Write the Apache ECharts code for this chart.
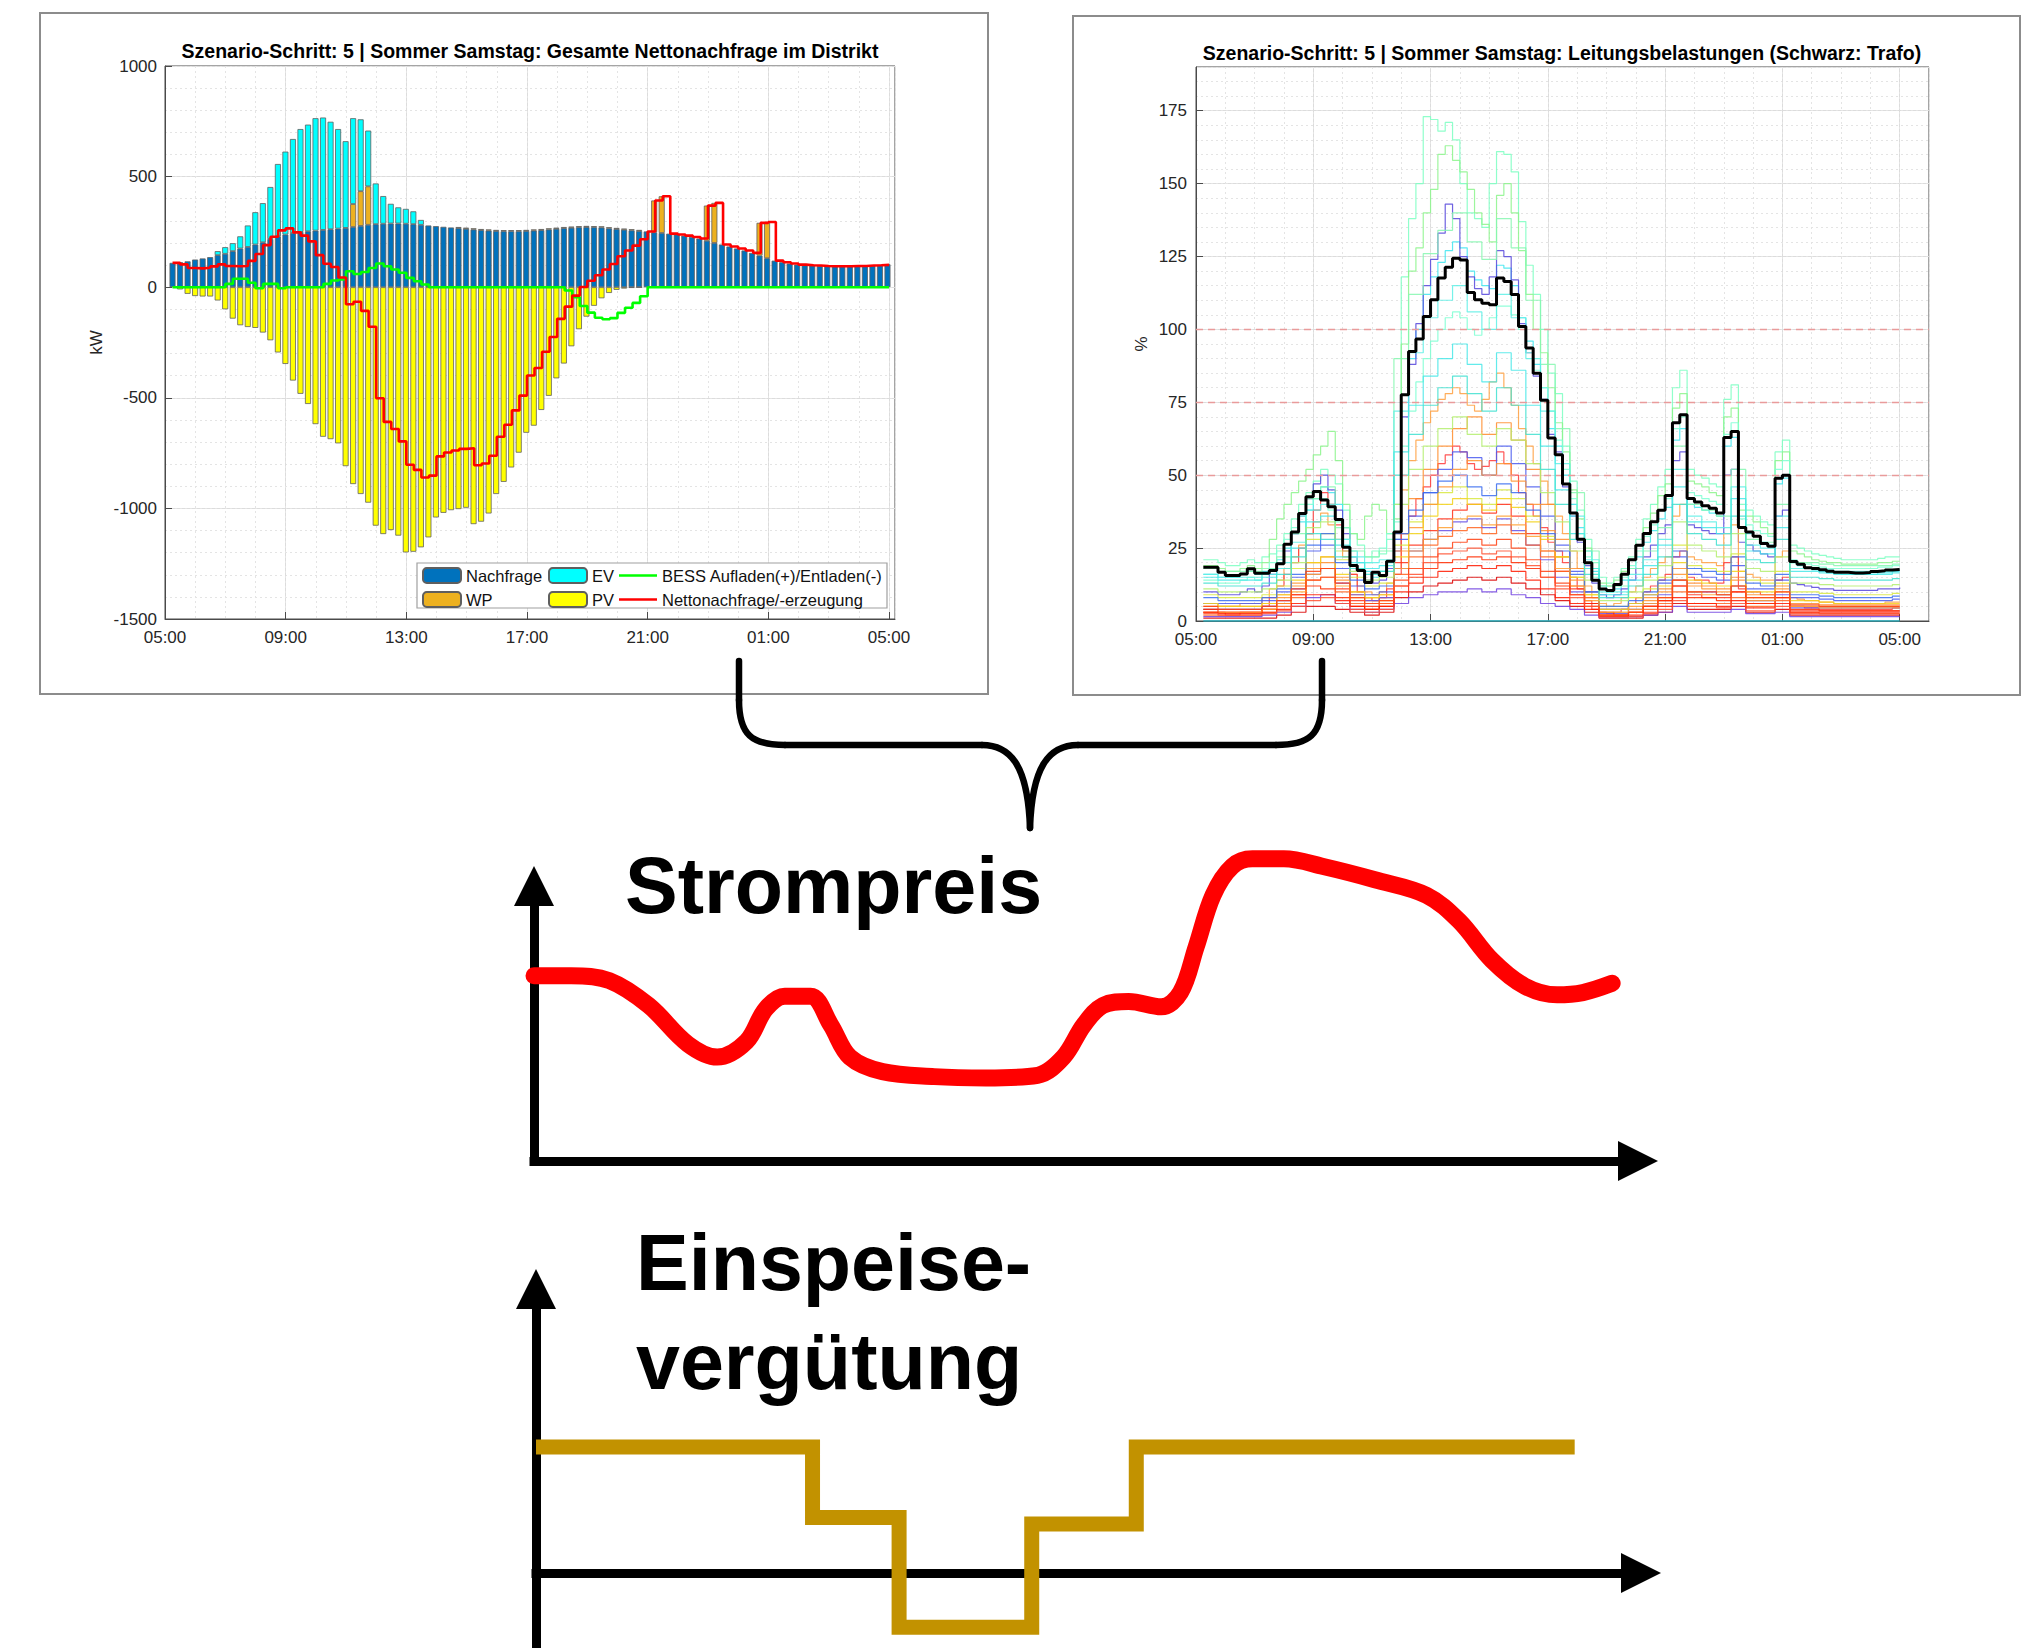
<!DOCTYPE html>
<html lang="de">
<head>
<meta charset="utf-8">
<title>Szenario-Schritt 5 – Sommer Samstag</title>
<script src="https://cdn.jsdelivr.net/npm/echarts@6/dist/echarts.min.js"></script>
<style>
html,body{margin:0;padding:0;background:#ffffff;}
#chart{width:2034px;height:1648px;}
</style>
</head>
<body>
<div id="chart"></div>
<script>
// ================= DATA =================
const hourTickLabels = ['05:00','09:00','13:00','17:00','21:00','01:00','05:00'];

// ---- left chart: district net demand, 96 quarter-hours (kW) ----
const demandKW = [110,113,117,125,130,136,145,151,163,175,
  182,193,203,218,230,238,245,250,253,256,
  259,262,265,268,272,277,282,285,287,288,
  288,287,285,282,279,276,273,270,267,264,
  261,258,256,254,253,253,253,254,256,258,
  261,264,267,269,271,272,271,270,266,263,
  260,257,254,252,248,245,242,238,233,227,
  220,210,200,193,184,175,166,155,143,131,
  120,113,107,102,99,98,96,95,95,95,
  96,96,98,99,101,104];
const heatPumpKW = [0,0,0,0,0,0,0,0,0,0,
  0,0,0,0,0,0,0,0,0,0,
  0,0,0,0,104,157,174,0,0,0,
  0,0,0,0,0,0,0,0,5,5,
  5,5,5,5,5,5,5,5,5,5,
  5,5,5,5,5,5,5,5,5,5,
  5,5,5,0,144,166,0,0,0,0,
  0,159,181,0,0,0,0,0,148,164,
  0,0,0,0,0,0,0,0,0,0,
  0,0,0,0,0,0];
const evKW = [0,0,0,0,0,0,18,30,36,55,
  97,146,177,235,327,375,425,465,482,508,
  508,486,450,392,388,325,252,184,125,89,
  73,67,58,22,0,0,0,0,0,0,
  0,0,0,0,0,0,0,0,0,0,
  0,0,0,0,0,0,0,0,0,0,
  0,0,0,0,0,0,0,0,0,0,
  0,0,0,0,0,0,0,0,0,0,
  0,0,0,0,0,0,0,0,0,0,
  0,0,0,0,0,0];
const pvKW = [0,-10,-30,-40,-42,-42,-60,-100,-142,-172,
  -180,-184,-205,-240,-295,-347,-422,-482,-528,-619,
  -676,-687,-706,-809,-890,-935,-974,-1078,-1116,-1098,
  -1123,-1199,-1196,-1176,-1131,-1041,-1020,-1008,-1003,-997,
  -1071,-1060,-1023,-935,-880,-815,-748,-658,-626,-555,
  -491,-412,-345,-267,-190,-133,-84,-50,-26,-12,
  -6,-3,-1,0,0,0,0,0,0,0,
  0,0,0,0,0,0,0,0,0,0,
  0,0,0,0,0,0,0,0,0,0,
  0,0,0,0,0,0];
const bessKW = [0,0,0,0,0,0,0,15,38,38,
  20,-5,15,15,-5,0,0,0,0,0,
  15,30,35,72,60,69,87,107,95,80,
  65,42,27,12,0,0,0,0,0,0,
  0,0,0,0,0,0,0,0,0,0,
  0,0,-15,-45,-85,-115,-138,-145,-140,-116,
  -93,-71,-41,0,0,0,0,0,0,0,
  0,0,0,0,0,0,0,0,0,0,
  0,0,0,0,0,0,0,0,0,0,
  0,0,0,0,0,0];
const netKW = [110,103,87,85,88,94,103,96,95,96,
  119,150,190,228,257,266,248,233,207,145,
  106,91,44,-77,-66,-107,-179,-502,-609,-641,
  -697,-803,-826,-860,-852,-765,-747,-738,-731,-728,
  -805,-797,-762,-676,-622,-557,-490,-399,-365,-292,
  -225,-143,-88,-38,1,29,54,80,105,140,
  166,188,217,252,392,411,242,238,233,227,
  220,369,381,193,184,175,166,155,291,295,
  120,113,107,102,99,98,96,95,95,95,
  96,96,98,99,101,104];

// ---- right chart: line loadings (%) ----
const trafoLoad = [18.4,18.4,16.7,15.6,15.6,16.1,17.9,16.4,16.4,17.3,
  19.6,26.3,30.5,36.9,42.6,44.4,41.5,39.2,34.8,25.3,
  19.0,17.3,13.2,16.7,15.6,20.5,30.5,77.6,92.4,96.7,
  104.4,110.2,117.6,121.3,124.4,123.8,112.7,110.2,109,108.5,
  117.6,116.4,112,101,93.6,85,75.7,62.8,57,47,
  37,28,20,14,11,10.5,12.5,16,21,26,
  30,34,38,43,68,70.7,42,40.8,39.5,38.7,
  37,62.9,65,32.1,30.5,29.1,26.6,25.6,49,50,
  20.4,19.5,18.3,18,17.6,17.1,16.7,16.7,16.5,16.5,
  16.6,17,17.2,17.5,17.7,17.8];
const feederA1 = [21,21,20,19,19,20,21,20,22,23,26,30,35,40,44,48,52,50,47,38,30,26,22,24,23,28,40,118,138,150,173,172,168,171,165,150,140,138,135,150,161,160,154,137,122,112,100,85,78,60,48,38,28,20,15,13,15,18,22,28,35,40,46,52,80,86,52,50,49,47,46,76,81,40,38,36,34,33,58,62,26,25,24,23,22.5,22,21.5,21,21,21,21,21,21.5,22,22,22];
const feederA2 = [19,19,18,17,17,18,19,18,20,28,35,40,44,48,52,57,60,65,55,40,30,28,36,40,38,30,35,95,120,128,140,148,160,163,158,154,148,140,136,130,146,150,140,127,112,100,92,80,68,58,45,35,25,18,13,12,14,17,21,26,32,37,43,47,73,78,48,47,46,44,43,70,73,38,36,34,32,30,55,58,24,23,22,21,20.5,20,20,19.5,19.5,19.5,19.5,19.5,20,20,20.5,20.5];
const feederA3 = [16,16,15,15,15,16,17,16,17,18,21,25,30,34,38,42,46,44,40,32,24,20,17,15,17,20,28,75,90,100,112,118,123,127,130,128,120,117,115,114,122,121,115,104,96,88,80,66,60,50,40,32,24,17,12,10,11,14,18,22,27,31,35,39,62,66,40,39,38,37,36,60,63,32,30,29,27,26,47,49,20,19,18,17.5,17,16.5,16.5,16,16,16,16,16,16.5,16.5,17,17];
const feederA4 = [10,10,9,9,9,10,11,10,12,16,20,24,30,36,42,47,50,45,38,30,22,18,14,13,14,18,24,70,88,102,115,124,133,143,138,125,118,114,112,118,127,125,117,102,92,84,76,64,58,46,36,27,19,13,9,8,9,11,14,18,22,26,30,33,55,58,33,32,31,30,30,50,52,27,26,24,23,22,36,38,13,12.5,12,11.5,11,11,10.5,10.5,10.5,10.5,10.5,10.5,11,11,11,11.5];
const feederA5 = [6,6,5,5,5,6,6,6,8,11,14,18,22,26,30,34,37,33,28,22,16,12,10,9,10,13,18,45,55,62,68,72,76,78,80,78,74,72,76,82,85,80,74,66,60,54,48,40,36,30,24,18,12,8,6,5,6,8,10,12,15,18,20,22,36,40,22,21,20,20,19,30,33,17,16,15,14,14,22,24,8,7.5,7,7,6.5,6.5,6,6,6,6,6,6,6,6.5,6.5,6.5];
const feederA6 = [3,3,3,2,2,3,3,3,5,8,12,16,20,25,30,38,44,40,33,24,16,10,8,7,8,11,16,30,36,42,46,50,54,57,60,58,54,52,53,55,58,54,50,44,40,36,32,27,24,20,15,11,7,4,3,2.5,3,4,6,8,10,12,14,16,22,24,15,14,14,13,13,20,22,11,10,10,9,9,14,15,5,5,4.5,4.5,4,4,4,4,4,4,4,4,4,4,4.5,4.5];
const feederA7 = [14,14,13,13,13,14,15,14,16,20,24,28,32,36,40,44,42,38,34,28,22,18,20,22,25,30,34,60,72,82,90,96,100,104,106,104,100,98,100,104,108,108,105,100,92,86,80,72,62,52,42,30,22,15,11,10,12,15,19,24,29,33,38,42,66,70,44,43,42,41,40,64,68,35,33,31,30,29,52,55,21,20,19.5,19,18.5,18,18,18,18,18,18,18,18.5,18.5,19,19];
const feederB1 = [4,3,3,3,4,6,9,12,11,8,5,4,5,12,15,18,20,21,22,21,22,20,18,15,12,9,6,3,2,3,5,7,12,8,8,7,10,6,6,8,4,4,3.5,3.5,3.5,3.5,3.5,3.5];
const feederB2 = [2,2,2,2,3,5,8,14,15,10,6,4,6,16,22,26,29,31,32,30,33,30,26,22,17,12,8,2,2,3,4,6,10,6,6,6,8,5,5,7,3,3,2.5,2.5,2.5,2.5,2.5,2.5];
const feederB3 = [6,5,5,5,6,9,14,20,22,16,10,8,9,22,30,36,40,42,40,38,42,39,34,28,22,15,9,4,4,6,9,12,20,14,13,12,17,10,10,13,7,7,6.5,6,6,6,6,6];
const feederB4 = [8,7,7,7,8,11,16,26,30,20,14,11,12,30,38,44,48,50,46,43,47,44,38,30,24,16,10,5,5,7,10,14,24,18,17,16,22,13,12,16,9,9,8.5,8,8,8,8,8.5];
const feederB5 = [1,1,1,1,1,2,3,5,5,4,3,2,3,8,10,12,13,14,15,14,15,13,11,9,7,5,3,1,1,1,2,3,6,4,4,4,5,3,3,4,2,2,2,2,2,2,2,2];
const feederB6 = [3,3,3,3,4,6,10,16,18,12,8,6,7,18,24,28,32,35,36,33,36,33,29,24,18,12,7,3,3,4,6,8,14,10,9,9,12,7,7,10,5,5,4.5,4.5,4.5,4.5,4.5,4.5];
const feederB7 = [1.5,1.5,1.5,1.5,2,3,5,8,9,6,4,3,4,6,8,9,10,10,11,10,11,9,8,6,5,4,2,1,1,1.5,2,3,5,3,3,3,4,2.5,2.5,3,1.5,1.5,1.5,1.5,1.5,1.5,1.5,1.5];
const feederB8 = [11,10,10,10,11,14,20,32,34,24,17,14,15,40,52,60,66,70,64,60,66,62,54,44,34,24,14,7,7,10,14,19,34,26,24,22,30,18,17,22,13,13,12.5,12,12,12,12,12.5];
const feederB9 = [5,4,4,4,5,7,11,17,18,13,8,6,7,14,18,22,25,27,28,26,28,25,21,17,13,9,5,2,2,3,5,8,14,10,10,9,12,8,8,10,5.5,5.5,5,5,5,5,5,5];
const feederB10 = [13,12,12,12,13,16,22,30,28,22,18,16,17,50,64,74,80,84,78,72,80,74,64,52,40,28,16,8,8,12,16,22,40,30,28,26,36,21,20,28,15,15,14.5,14,14,14,14,14.5];
const feederB11 = [4,4,4,4,5,8,12,18,20,14,9,7,8,30,42,52,60,66,70,64,68,62,52,40,28,18,10,4,4,6,8,11,18,13,12,11,15,9,9,12,6,6,5.5,5.5,5.5,5.5,5.5,5.5];
const feederB12 = [15,14,14,14,15,18,25,34,36,26,20,18,19,58,74,84,90,95,88,82,92,86,74,60,45,30,18,9,9,14,19,26,46,34,32,30,42,24,23,32,17,17,16.5,16,16,16,16,16.5];
const feederB13 = [6,6,6,6,7,10,15,24,26,18,12,9,10,28,36,44,52,58,56,50,60,54,46,36,26,17,10,4,4,6,9,13,22,16,15,14,19,11,11,14,8,8,7.5,7,7,7,7,7.5];
const feederB14 = [3,2.5,2.5,2.5,3,4,6,9,9,7,5,4,5,10,13,15,17,18,19,18,19,17,14,11,8,6,4,1.5,1.5,2,3,5,8,6,6,5,7,4.5,4.5,6,3,3,3,3,3,3,3,3];
const feederB15 = [2.5,2,2,2,2.5,3.5,5,7,8,6,4,3,4,12,16,20,23,24,25,23,24,22,19,15,11,8,5,1,1,1.5,2.5,4,7,5,5,4.5,6,3.5,3.5,5,2.5,2.5,2.5,2.5,2.5,2.5,2.5,2.5];
const feederB16 = [9,8,8,8,9,12,18,28,30,21,15,12,13,26,34,40,44,46,42,40,45,42,36,29,22,15,9,5,5,8,11,15,26,19,18,17,23,14,13,17,10,10,9.5,9,9,9,9,9.5];
const feederB17 = [18,17,17,17,18,22,30,42,46,32,24,22,24,90,112,126,134,140,130,124,138,128,110,88,66,44,24,12,12,18,24,32,60,40,38,36,52,28,27,40,20,20,19.5,19,19,19,19,19.5];
const feederB18 = [16,15,15,15,16,20,27,38,40,28,22,20,21,72,92,104,110,115,106,100,112,104,90,72,54,36,21,10,10,16,21,28,52,36,34,32,46,26,25,36,18,18,17.5,17,17,17,17,17.5];
const feederB19 = [5,5,5,5,6,9,13,20,22,15,10,8,9,24,32,40,46,52,55,50,54,48,40,31,22,14,8,3,3,5,7,10,16,12,11,10,14,8,8,11,5,5,5,5,5,5,5,5];
const feederB20 = [4,4,4,4,5,7,11,16,18,13,9,7,8,18,24,28,31,34,35,32,35,31,26,21,15,10,6,2.5,2.5,4,6,9,14,10,10,9,12,7,7,9,4.5,4.5,4.5,4.5,4.5,4.5,4.5,4.5];
const feederB21 = [3,3,3,3,4,6,9,14,15,11,7,5,6,20,26,31,35,38,40,37,40,36,30,24,17,11,6,2,2,3,5,7,12,9,8,8,10,6,6,8,3.5,3.5,3.5,3.5,3.5,3.5,3.5,3.5];
const idleFeederT = [0.25, 24];
const idleFeederLoad = [0, 0];
const loadLimits = [50, 75, 100];

// ---- sketch: electricity price (arbitrary units) ----
const priceX = [0,3.3,6.7,10.2,13.7,16.3,18.9,20.6,22.3,24.6,26.4,28.1,31.0,35.6,40.2,44.8,47.1,48.9,50.6,52.9,55.8,57.5,58.9,60.4,62.1,63.9,66.7,70.2,74.8,79.4,82.3,85.2,88.1,91.0,93.3,95.9];
const priceY = [56.0,56.0,54.5,47.0,35.3,31.4,36.1,45.9,49.8,49.8,41.1,31.4,27.0,25.5,25.1,25.9,31.4,41.1,47.0,48.2,46.6,50.9,64.7,80.3,89.0,91.3,91.3,89.0,85.0,80.3,72.5,60.7,52.9,50.2,50.9,53.7];
// ---- sketch: feed-in tariff (arbitrary units, step) ----
const feedInX = [0, 24.6, 32.3, 44.1, 53.4, 92.4];
const feedInY = [100, 44, -43, 39, 100, 100];

// ================= BUILD =================
const FONT = "'Liberation Sans', Arial, Helvetica, sans-serif";
const slotTimes = demandKW.map((_, k) => (k + 1) * 0.25);
const halfHourTimes = feederB1.map((_, j) => 0.25 + 0.5 * j);
const barSlots = ['start'].concat(slotTimes.map(t => 'q' + t)).concat(['end']);
const pairs = (ts, vs) => vs.map((v, i) => [ts[i], v]);
const nz = v => (v === 0 ? null : v);
const hourFmt = v => {
  const i = Math.round(v / 4);
  return Math.abs(v - i * 4) < 1e-6 && hourTickLabels[i] ? hourTickLabels[i] : '';
};

const AX = '#4a4a4a';
const majorGrid = { show: true, lineStyle: { color: '#dcdcdc', width: 1 } };
const minorGrid = { show: true, lineStyle: { color: '#e4e4e4', width: 1, type: [2, 3] } };
const hiddenAxisParts = { axisLine: { show: false }, axisTick: { show: false }, axisLabel: { show: false } };

function mainX(grid, max) {
  return {
    gridIndex: grid, type: 'value', min: 0, max: max, interval: 4,
    axisLine: { show: true, onZero: false, lineStyle: { color: AX, width: 1 } },
    axisTick: { show: true, inside: true, length: 7, lineStyle: { color: AX } },
    axisLabel: { formatter: hourFmt, fontSize: 17, color: '#262626', fontFamily: FONT, margin: 10, showMaxLabel: false },
    splitLine: majorGrid
  };
}
function minorX(grid, max) {
  return Object.assign({ gridIndex: grid, type: 'value', min: 0, max: max, interval: 1, splitLine: minorGrid }, hiddenAxisParts);
}
function arrowAxis(grid, min, max) {
  return {
    gridIndex: grid, type: 'value', min: min, max: max,
    axisLine: { show: true, onZero: true, symbol: ['none', 'triangle'], symbolSize: [40, 40],
      lineStyle: { color: '#000', width: 9, cap: 'square' } },
    axisTick: { show: false }, axisLabel: { show: false }, splitLine: { show: false }
  };
}

const barStyle = c => ({ color: c, borderColor: '#5f5f5f', borderWidth: 0.8 });
function barSeries(name, arr, color) {
  return {
    name: name, type: 'bar', stack: 'district', xAxisIndex: 6, yAxisIndex: 0,
    barWidth: 6, data: [null].concat(arr.map(nz)).concat([null]), itemStyle: barStyle(color), z: 2
  };
}
function stepSeries(name, arr, color, width) {
  return {
    name: name, type: 'line', step: 'end', xAxisIndex: 0, yAxisIndex: 0,
    symbol: 'none', showSymbol: false, data: pairs(slotTimes, arr),
    lineStyle: { color: color, width: width }, itemStyle: { color: color }, z: 4
  };
}

const upperFeeders = [feederA1, feederA2, feederA3, feederA4, feederA5, feederA6, feederA7];
const upperColors = ['#7dffc2', '#8cf58c', '#3fe6f0', '#5646dc', '#ffa040', '#ff3a3a', '#7fffd4'];
const lowerFeeders = [feederB17, feederB18, feederB12, feederB11, feederB13, feederB16, feederB19, feederB20, feederB21,
  feederB1, feederB2, feederB3, feederB4, feederB5, feederB6, feederB7, feederB8, feederB9, feederB10, feederB14, feederB15];
const lowerColors = ['#86f7b0', '#5ef0e6', '#48e8e8', '#ff8c2a', '#4a5af0', '#d8e840', '#ff9430', '#6650e6', '#ff3018',
  '#ff2a00', '#ff6420', '#f2d21a', '#3a6cf0', '#dc0000', '#ffa030', '#7040e0', '#b4ee6e', '#ff4010', '#40e0d0', '#ff1a00', '#ff5030'];

const rightSeries = [];
rightSeries.push({
  name: 'Leitung 0', type: 'line', xAxisIndex: 2, yAxisIndex: 2, symbol: 'none',
  data: pairs(idleFeederT, idleFeederLoad), lineStyle: { color: '#2ab4c4', width: 1.6 }, z: 2,
  markLine: { silent: true, symbol: ['none', 'none'], label: { show: false },
    lineStyle: { color: '#e99b9b', type: [7, 5], width: 1.3 },
    data: loadLimits.map(v => ({ yAxis: v })) }
});
upperFeeders.forEach((arr, i) => rightSeries.push({
  name: 'Leitung A' + (i + 1), type: 'line', step: 'end', xAxisIndex: 2, yAxisIndex: 2, symbol: 'none',
  data: pairs(slotTimes, arr), lineStyle: { color: upperColors[i], width: 1.2, opacity: 0.85 }, z: 2
}));
lowerFeeders.forEach((arr, i) => rightSeries.push({
  name: 'Leitung B' + (i + 1), type: 'line', step: 'end', xAxisIndex: 2, yAxisIndex: 2, symbol: 'none',
  data: pairs(halfHourTimes, arr).concat([[24, arr[arr.length - 1]]]),
  lineStyle: { color: lowerColors[i], width: 1.2, opacity: 0.85 }, z: 3
}));
rightSeries.push({
  name: 'Trafo', type: 'line', step: 'end', xAxisIndex: 2, yAxisIndex: 2, symbol: 'none',
  data: pairs(slotTimes, trafoLoad), lineStyle: { color: '#000000', width: 3 }, z: 5
});

const legendCommon = {
  orient: 'vertical', top: 567, itemWidth: 38, itemHeight: 15, itemGap: 7, padding: 0,
  selectedMode: false, textStyle: { fontSize: 16.5, color: '#111', fontFamily: FONT }, z: 6
};

// brace decoration (pixel geometry)
const braceStyle = { stroke: '#000', lineWidth: 6.5, lineCap: 'round', fill: null };
function braceLine(x1, y1, x2, y2) {
  return { type: 'line', z: 20, shape: { x1: x1, y1: y1, x2: x2, y2: y2 }, style: braceStyle };
}
function braceCurve(x1, y1, c1x, c1y, c2x, c2y, x2, y2) {
  return { type: 'bezierCurve', z: 20, shape: { x1: x1, y1: y1, cpx1: c1x, cpy1: c1y, cpx2: c2x, cpy2: c2y, x2: x2, y2: y2 }, style: braceStyle };
}
const braceElements = [
  braceLine(739, 661, 739, 700),
  braceCurve(739, 700, 739, 735, 752, 745, 785, 745),
  braceLine(785, 745, 982, 745),
  braceCurve(982, 745, 1012, 745, 1028, 768, 1030, 828),
  braceLine(1322, 661, 1322, 700),
  braceCurve(1322, 700, 1322, 735, 1309, 745, 1276, 745),
  braceLine(1276, 745, 1078, 745),
  braceCurve(1078, 745, 1048, 745, 1032, 768, 1030, 828)
];

const option = {
  animation: false,
  backgroundColor: '#ffffff',
  textStyle: { fontFamily: FONT },
  grid: [
    { left: 165, top: 66, width: 730, height: 553, show: true, borderColor: AX, borderWidth: 1, backgroundColor: '#fff', containLabel: false, outerBoundsMode: 'none' },
    { left: 1196, top: 67, width: 733, height: 554, show: true, borderColor: AX, borderWidth: 1, backgroundColor: '#fff', containLabel: false, outerBoundsMode: 'none' },
    { left: 534, top: 886, width: 1104, height: 275, containLabel: false, outerBoundsMode: 'none' },
    { left: 536, top: 1289, width: 1105, height: 359, containLabel: false, outerBoundsMode: 'none' }
  ],
  xAxis: [
    mainX(0, 24.2), minorX(0, 24.2),
    mainX(1, 25), minorX(1, 25),
    arrowAxis(2, 0, 98.2), arrowAxis(3, 0, 98.3),
    { gridIndex: 0, type: 'category', data: barSlots, boundaryGap: false, show: false }
  ],
  yAxis: [
    { gridIndex: 0, type: 'value', min: -1500, max: 1000, interval: 500,
      name: 'kW', nameLocation: 'middle', nameGap: 60, nameRotate: 90,
      nameTextStyle: { fontSize: 17, color: '#262626', fontFamily: FONT },
      axisLine: { show: true, onZero: false, lineStyle: { color: AX } },
      axisTick: { show: true, inside: true, length: 7, lineStyle: { color: AX } },
      axisLabel: { formatter: v => String(v), fontSize: 17, color: '#262626', fontFamily: FONT, margin: 8 },
      splitLine: majorGrid },
    Object.assign({ gridIndex: 0, type: 'value', min: -1500, max: 1000, interval: 100, splitLine: minorGrid }, hiddenAxisParts),
    { gridIndex: 1, type: 'value', min: 0, max: 190, interval: 25,
      name: '%', nameLocation: 'middle', nameGap: 46, nameRotate: 90,
      nameTextStyle: { fontSize: 17, color: '#262626', fontFamily: FONT },
      axisLine: { show: true, onZero: false, lineStyle: { color: AX } },
      axisTick: { show: true, inside: true, length: 7, lineStyle: { color: AX } },
      axisLabel: { fontSize: 17, color: '#262626', fontFamily: FONT, margin: 9, showMaxLabel: false },
      splitLine: majorGrid },
    Object.assign({ gridIndex: 1, type: 'value', min: 0, max: 190, interval: 5, splitLine: minorGrid }, hiddenAxisParts),
    arrowAxis(2, 0, 83.1),
    arrowAxis(3, -59.5, 225.4)
  ],
  legend: [
    Object.assign({ left: 422, data: ['Nachfrage', 'WP'] }, legendCommon),
    Object.assign({ left: 548, data: ['EV', 'PV'] }, legendCommon),
    Object.assign({}, legendCommon, { left: 619, itemHeight: 2.6, icon: 'rect',
      data: ['BESS Aufladen(+)/Entladen(-)', 'Nettonachfrage/-erzeugung'] })
  ],
  series: [
    barSeries('Nachfrage', demandKW, '#0072BD'),
    barSeries('WP', heatPumpKW, '#EDB120'),
    barSeries('EV', evKW, '#00FFFF'),
    barSeries('PV', pvKW, '#FFFF00'),
    stepSeries('BESS Aufladen(+)/Entladen(-)', bessKW, '#00FF00', 2.6),
    stepSeries('Nettonachfrage/-erzeugung', netKW, '#FF0000', 2.6)
  ].concat(rightSeries).concat([
    { name: 'Strompreis', type: 'line', xAxisIndex: 4, yAxisIndex: 4, smooth: 0.35, symbol: 'none', clip: false,
      data: pairs(priceX, priceY), lineStyle: { color: '#ff0000', width: 17, cap: 'round', join: 'round' }, z: 3 },
    { name: 'Einspeisevergütung', type: 'line', step: 'end', xAxisIndex: 5, yAxisIndex: 5, symbol: 'none', clip: false,
      data: pairs(feedInX, feedInY), lineStyle: { color: '#c29200', width: 15, join: 'miter' }, z: 3 }
  ]),
  graphic: [
    { type: 'rect', z: 0, shape: { x: 40, y: 13, width: 948, height: 681 }, style: { fill: 'transparent', stroke: '#8c8c8c', lineWidth: 2 } },
    { type: 'rect', z: 0, shape: { x: 1073, y: 16, width: 947, height: 679 }, style: { fill: 'transparent', stroke: '#8c8c8c', lineWidth: 2 } },
    { type: 'rect', z: 5, shape: { x: 417, y: 563, width: 470, height: 45 }, style: { fill: '#ffffff', stroke: '#a0a0a0', lineWidth: 1.2 } },
    { type: 'text', z: 6, style: { text: 'Szenario-Schritt: 5 | Sommer Samstag: Gesamte Nettonachfrage im Distrikt', x: 530, y: 51, align: 'center', verticalAlign: 'middle', fontSize: 19.5, fontWeight: 'bold', fontFamily: FONT, fill: '#000' } },
    { type: 'text', z: 6, style: { text: 'Szenario-Schritt: 5 | Sommer Samstag: Leitungsbelastungen (Schwarz: Trafo)', x: 1562, y: 53, align: 'center', verticalAlign: 'middle', fontSize: 19.5, fontWeight: 'bold', fontFamily: FONT, fill: '#000' } },
    { type: 'text', z: 6, style: { text: 'Strompreis', x: 625, y: 885, align: 'left', verticalAlign: 'middle', fontSize: 79, fontWeight: 'bold', fontFamily: FONT, fill: '#000' } },
    { type: 'text', z: 6, style: { text: 'Einspeise-', x: 636, y: 1262, align: 'left', verticalAlign: 'middle', fontSize: 79, fontWeight: 'bold', fontFamily: FONT, fill: '#000' } },
    { type: 'text', z: 6, style: { text: 'vergütung', x: 636, y: 1361, align: 'left', verticalAlign: 'middle', fontSize: 79, fontWeight: 'bold', fontFamily: FONT, fill: '#000' } }
  ].concat(braceElements)
};

const chart = echarts.init(document.getElementById('chart'), null, { renderer: 'svg', width: 2034, height: 1648 });
chart.setOption(option);
</script>
</body>
</html>
